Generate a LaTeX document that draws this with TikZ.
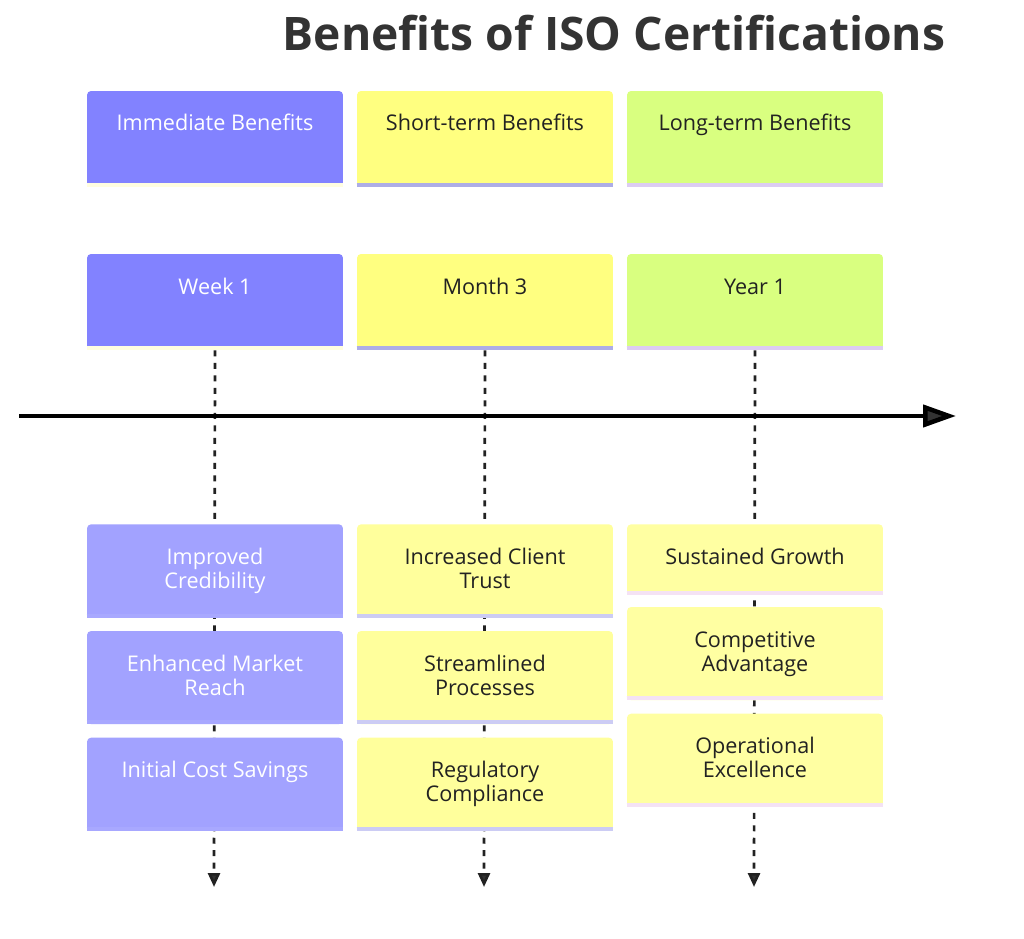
\documentclass[tikz,border=0pt]{standalone}
\usepackage{fontspec}
\setmainfont{Open Sans}
\usetikzlibrary{positioning,arrows.meta,backgrounds}
\definecolor{ink}{HTML}{333333}
\definecolor{txt}{HTML}{222222}
\definecolor{perA}{HTML}{8282FF}
\definecolor{perB}{HTML}{FFFF80}
\definecolor{perC}{HTML}{D9FF80}
\definecolor{evA}{HTML}{A2A2FF}
\definecolor{evB}{HTML}{FFFF9C}
\definecolor{evC}{HTML}{FFFFA2}
\definecolor{lnA}{HTML}{FFFDE0}
\definecolor{lnB}{HTML}{ADADE6}
\definecolor{lnC}{HTML}{DCCCF2}
\definecolor{elA}{HTML}{A8A8FF}
\definecolor{elB}{HTML}{CCCCF4}
\definecolor{elC}{HTML}{F4E2F4}
\tikzset{
  ttl/.style    ={font=\fontsize{26.3}{31}\selectfont\bfseries, text=ink},
  box/.style    ={rounded corners=0.08cm, inner sep=0pt, align=center,
                  minimum width=5.12cm, text height=0.80cm,
                  font=\fontsize{12.3}{13.6}\selectfont},
  sec/.style    ={box, text depth=1.12cm},
  ev/.style     ={box, text depth=1.06cm},
  evtwo/.style  ={box, text height=1.28cm, text depth=0.58cm},
  evs/.style    ={box, text depth=0.60cm},
  colA/.style   ={fill=perA, text=white},
  colB/.style   ={fill=perB, text=txt},
  colC/.style   ={fill=perC, text=txt},
  baseline/.style={line width=0.08cm},
  guide/.style  ={draw=txt, line width=0.054cm, dash pattern=on 0.12cm off 0.13cm,
                  -{Triangle[length=0.28cm, width=0.24cm, fill=ink]}},
  axis/.style   ={draw=black, line width=0.09cm,
                  -{Triangle[length=0.66cm, width=0.44cm, fill=ink]}},
}

\begin{document}
\begin{tikzpicture}[x=0.02cm, y=-0.02cm]

  \useasboundingbox (0,0) rectangle (1024,939);

  % ---- title ----
  \node[ttl] (title) at (614,33) {Benefits of ISO Certifications};

  % ---- sections ----
  \node[sec, colA] (immd) at (215,139) {Immediate Benefits};
  \node[sec, colB] (shrt) at (485,139) {Short-term Benefits};
  \node[sec, colC] (long) at (755,139) {Long-term Benefits};

  % ---- periods ----
  \node[sec, colA] (wk1) at (215,302) {Week 1};
  \node[sec, colB] (mo3) at (485,302) {Month 3};
  \node[sec, colC] (yr1) at (755,302) {Year 1};

  % ---- events ----
  \node[evtwo, fill=evA, text=white, anchor=north] (cred) at (215,524) {Improved\\Credibility};
  \node[evtwo, fill=evA, text=white, below=0.26cm of cred] (reach) {Enhanced Market\\Reach};
  \node[ev, fill=evA, text=white, below=0.26cm of reach] (save) {Initial Cost Savings};

  \node[evtwo, fill=evB, text=txt, anchor=north] (trust) at (485,524) {Increased Client\\Trust};
  \node[evtwo, fill=evB, text=txt, below=0.26cm of trust] (proc) {Streamlined\\Processes};
  \node[evtwo, fill=evB, text=txt, below=0.26cm of proc] (comp) {Regulatory\\Compliance};

  \node[evs, fill=evC, text=txt, anchor=north] (grow) at (755,524) {Sustained Growth};
  \node[evtwo, fill=evC, text=txt, below=0.24cm of grow] (adv) {Competitive\\Advantage};
  \node[evtwo, fill=evC, text=txt, below=0.26cm of adv] (opex) {Operational\\Excellence};

  % ---- bottom edges ----
  \foreach \n/\c in {immd/lnA, shrt/lnB, long/lnC, wk1/lnA, mo3/lnB, yr1/lnC,
                     cred/elA, reach/elA, save/elA, trust/elB, proc/elB, comp/elB,
                     grow/elC, adv/elC, opex/elC}
    \draw[baseline, draw=\c] ([yshift=0.04cm]\n.south west) -- ([yshift=0.04cm]\n.south east);

  % ---- time axis ----
  \coordinate (t0) at (19,416);
  \coordinate (t1) at (956,416);
  \draw[axis] (t0) -- (t1);

  % ---- guides behind the boxes ----
  \coordinate (wk1end) at (214,887);
  \coordinate (mo3end) at (484,887);
  \coordinate (yr1end) at (754,887);
  \begin{scope}[on background layer]
    \fill[white] (0,0) rectangle (1024,939);
    \draw[guide] (wk1.south) -- (wk1end);
    \draw[guide] (mo3.south) -- (mo3end);
    \draw[guide] (yr1.south) -- (yr1end);
  \end{scope}

\end{tikzpicture}
\end{document}
